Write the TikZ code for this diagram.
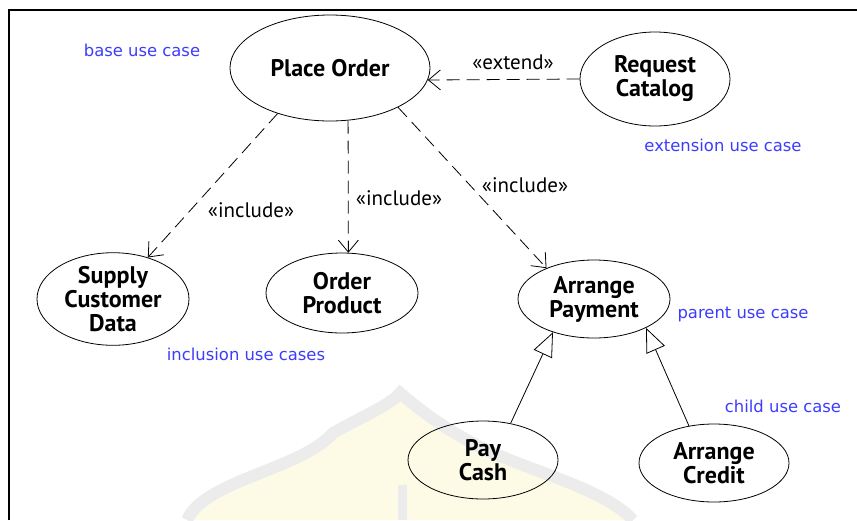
\documentclass[tikz,border=0pt]{standalone}
\usepackage{fontspec}
\setmainfont{PT Sans}
\newfontfamily\notefont{DejaVu Sans}
\usetikzlibrary{shapes.geometric,arrows.meta}
\definecolor{notecol}{RGB}{60,60,255}
\definecolor{markband}{RGB}{236,236,236}
\definecolor{markfill}{RGB}{253,251,230}
\begin{document}
\begin{tikzpicture}[x=1pt,y=-1pt,
  usecase/.style={ellipse,draw,line width=0.8pt,inner sep=0pt,align=center,
    font=\fontsize{24}{24}\selectfont\bfseries},
  note/.style={text=notecol,font=\notefont\fontsize{16.4}{19}\selectfont},
  stereo/.style={font=\fontsize{21}{22}\selectfont},
  depend/.style={line width=0.8pt,dash pattern=on 13pt off 7pt,
    -{Straight Barb[length=12pt,width=20pt,line width=0.8pt]}},
  generalize/.style={line width=0.8pt,
    -{Triangle[open,length=24pt,width=20pt,line width=0.8pt,fill=white]}},
]
\useasboundingbox (0,0) rectangle (857,520);

% faint dome emblem in the background
\fill[markfill] (187,520) .. controls (205,480) and (300,470) .. (333,433)
  .. controls (365,415) and (390,405) .. (400,393)
  .. controls (420,410) and (440,425) .. (467,440)
  .. controls (520,470) and (600,485) .. (633,520) -- cycle;
\draw[markband,line width=12pt] (187,520) .. controls (205,480) and (300,470) .. (333,433)
  .. controls (365,415) and (390,405) .. (400,393)
  .. controls (420,410) and (440,425) .. (467,440)
  .. controls (520,470) and (600,485) .. (633,520);
\fill[markband] (398,485) rectangle (407,520);

% frame
\draw[line width=2.5pt] (9,520) -- (9,10) -- (857,10);

% use cases
\node[usecase,minimum width=200pt,minimum height=106pt] (po) at (330,68) {Place Order};
\node[usecase,minimum width=150pt,minimum height=94pt] (rc) at (655,79) {Request\\Catalog};
\node[usecase,minimum width=152pt,minimum height=92pt] (sc) at (113,299) {Supply\\Customer\\Data};
\node[usecase,minimum width=152pt,minimum height=80pt] (op) at (342,293) {Order\\Product};
\node[usecase,minimum width=152pt,minimum height=78pt] (ap) at (594,299) {Arrange\\Payment};
\node[usecase,minimum width=150pt,minimum height=78pt] (pc) at (483,460) {Pay\\Cash};
\node[usecase,minimum width=150pt,minimum height=78pt] (ac) at (714,463) {Arrange\\Credit};

% relationships
\draw[depend] (rc.west) -- (po.353.5);
\draw[depend] (po.221) -- (sc.50);
\draw[depend] (po.289) -- (op.81);
\draw[depend] (po.330) -- (ap.147);
\draw[generalize] (pc.53) -- (ap.219);
\draw[generalize] (ac.124.4) -- (ap.331.3);

% stereotypes
\node[stereo] (s1) at (513,62) {«extend»};
\node[stereo] (s2) at (251,210) {«include»};
\node[stereo] (s3) at (399,198) {«include»};
\node[stereo] (s4) at (525,185) {«include»};

% annotations
\node[note] (n1) at (142,50) {base use case};
\node[note] (n2) at (723,145) {extension use case};
\node[note] (n3) at (246,354) {inclusion use cases};
\node[note] (n4) at (743,314) {parent use case};
\node[note] (n5) at (783,406) {child use case};
\end{tikzpicture}
\end{document}
